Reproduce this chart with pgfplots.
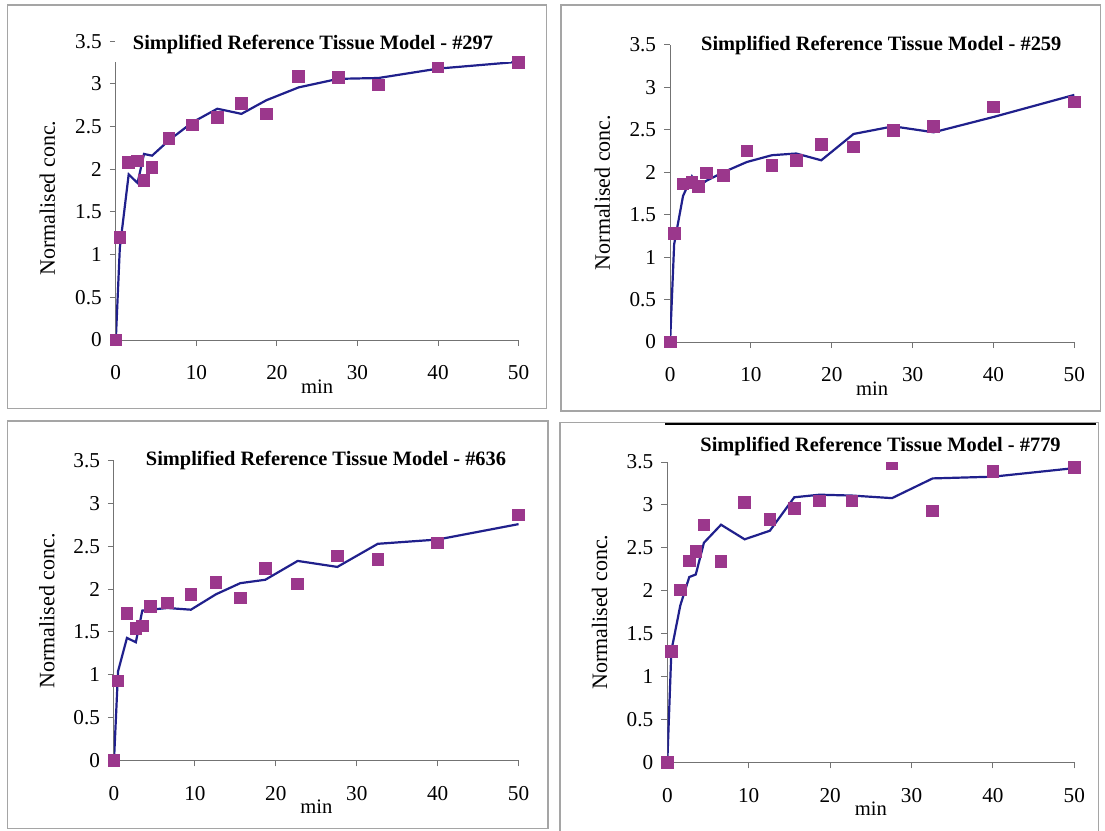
\documentclass[border=0pt]{standalone}
\usepackage{pgfplots}
\pgfplotsset{compat=1.18}
\usepackage{pgfplotstable}
\usepackage{fontspec}
\setmainfont{Liberation Serif}
\definecolor{fitblue}{RGB}{32,32,140}
\definecolor{obspurple}{RGB}{155,55,140}
\definecolor{framegray}{RGB}{165,165,165}

\pgfplotstableread{
t obs fit
0 0 0
0.5 1.20 1.08
1.6 2.08 1.94
2.7 2.10 1.84
3.5 1.87 2.18
4.5 2.02 2.16
6.6 2.36 2.34
9.5 2.52 2.55
12.6 2.61 2.71
15.6 2.77 2.65
18.7 2.65 2.81
22.7 3.09 2.96
27.6 3.08 3.06
32.6 2.99 3.07
40 3.20 3.18
50 3.25 3.26
}\dataA
\pgfplotstableread{
t obs fit
0 0 0
0.5 1.28 1.15
1.6 1.86 1.72
2.7 1.88 1.95
3.5 1.83 1.83
4.5 1.99 1.90
6.6 1.96 2.00
9.5 2.25 2.12
12.6 2.08 2.20
15.6 2.14 2.22
18.7 2.33 2.14
22.7 2.30 2.45
27.6 2.49 2.54
32.6 2.54 2.47
40 2.77 2.65
50 2.83 2.91
}\dataB
\pgfplotstableread{
t obs fit
0 0 0
0.5 0.93 1.04
1.6 1.72 1.43
2.7 1.54 1.38
3.5 1.57 1.75
4.5 1.80 1.76
6.6 1.84 1.78
9.5 1.94 1.76
12.6 2.08 1.94
15.6 1.90 2.07
18.7 2.24 2.11
22.7 2.06 2.33
27.6 2.39 2.26
32.6 2.35 2.53
40 2.54 2.58
50 2.87 2.76
}\dataC
% panel #779: the observation at 27.6 min lies at the top edge and is shown cut off
\pgfplotstableread{
t obs fit
0 0 0
0.5 1.29 1.30
1.6 2.01 1.83
2.7 2.35 2.16
3.5 2.46 2.19
4.5 2.77 2.56
6.6 2.34 2.77
9.5 3.03 2.60
12.6 2.83 2.70
15.6 2.96 3.09
18.7 3.05 3.12
22.7 3.05 3.11
27.6 nan 3.08
32.6 2.93 3.31
40 3.39 3.33
50 3.44 3.43
}\dataD

\pgfplotsset{
  srtm/.style={
    scale only axis,
    anchor=south west,
    xmin=0, xmax=50, ymin=0, ymax=3.5,
    xtick={0,10,20,30,40,50},
    ytick={0,0.5,1,1.5,2,2.5,3,3.5},
    axis lines=left,
    axis line style={-, black!55, line width=0.5pt},
    tick style={black!55, line width=0.5pt},
    tick align=outside,
    major tick length=3pt,
    /pgf/number format/assume math mode=true,
    ticklabel style={font=\fontsize{10.6}{12}\selectfont},
    xticklabel shift=6.3pt,
    yticklabel shift=0.5pt,
    xlabel={min},
    ylabel={Normalised conc.},
    xlabel style={at={(axis description cs:0.5,0)}, anchor=base, yshift=-26.6pt, font=\fontsize{10.3}{12}\selectfont},
    ylabel style={anchor=center, font=\fontsize{11}{13}\selectfont},
    title style={anchor=base, yshift=-6pt, font=\bfseries\fontsize{10.2}{12}\selectfont},
    unbounded coords=jump,
  },
  fitline/.style={fitblue, line width=1.1pt, mark=none},
  obsmarks/.style={obspurple, only marks, mark=square*, mark size=2.9pt, mark options={obspurple, fill=obspurple}},
}

\begin{document}
\begin{tikzpicture}
\useasboundingbox (0pt,0pt) rectangle (552.5pt,-415.5pt);
% panel frames
\draw[framegray, line width=0.6pt] (3.75pt,-2.5pt) rectangle (273.35pt,-204.35pt);
\draw[framegray, line width=0.6pt] (280.5pt,-2.5pt) rectangle (550.3pt,-205.5pt);
\draw[framegray, line width=0.6pt] (3.75pt,-210.5pt) rectangle (274pt,-414.15pt);
\draw[framegray, line width=0.6pt] (280pt,-415.5pt) -- (280pt,-211.35pt) -- (549.3pt,-211.35pt) -- (549.3pt,-415.5pt);
\draw[black, line width=1.2pt] (332.5pt,-212pt) -- (548pt,-212pt);

\begin{axis}[srtm, at={(57.9pt,-170pt)}, width=201.4pt, height=149.35pt,
  title={Simplified Reference Tissue Model - \#297},
  title style={at={(axis description cs:0.4896,0.973)}, fill=white, inner xsep=9pt, inner ysep=4pt},
  ylabel style={at={(axis description cs:-0.170,0.475)}}]
\addplot[fitline] table[x=t, y=fit] {\dataA};
\addplot[obsmarks] table[x=t, y=obs] {\dataA};
\end{axis}

\begin{axis}[srtm, at={(335.05pt,-171pt)}, width=202.1pt, height=148.6pt,
  title={Simplified Reference Tissue Model - \#259},
  title style={at={(axis description cs:0.5225,0.9825)}},
  ylabel style={at={(axis description cs:-0.1675,0.503)}}]
\addplot[fitline] table[x=t, y=fit] {\dataB};
\addplot[obsmarks] table[x=t, y=obs] {\dataB};
\end{axis}

\begin{axis}[srtm, at={(57pt,-380.15pt)}, width=202.3pt, height=149.75pt,
  title={Simplified Reference Tissue Model - \#636},
  title style={at={(axis description cs:0.524,0.9836)}},
  ylabel style={at={(axis description cs:-0.1656,0.4985)}}]
\addplot[fitline] table[x=t, y=fit] {\dataC};
\addplot[obsmarks] table[x=t, y=obs] {\dataC};
\end{axis}

\begin{axis}[srtm, at={(333.65pt,-381.15pt)}, width=203.5pt, height=150.1pt,
  title={Simplified Reference Tissue Model - \#779},
  title style={at={(axis description cs:0.524,1.037)}},
  ylabel style={at={(axis description cs:-0.166,0.50)}}]
\addplot[fitline] table[x=t, y=fit] {\dataD};
\addplot[obsmarks] table[x=t, y=obs] {\dataD};
% point cut off by the top of the plot area
\addplot[obsmarks, mark options={yscale=0.66}] coordinates {(27.6,3.455)};
\end{axis}
\end{tikzpicture}
\end{document}
